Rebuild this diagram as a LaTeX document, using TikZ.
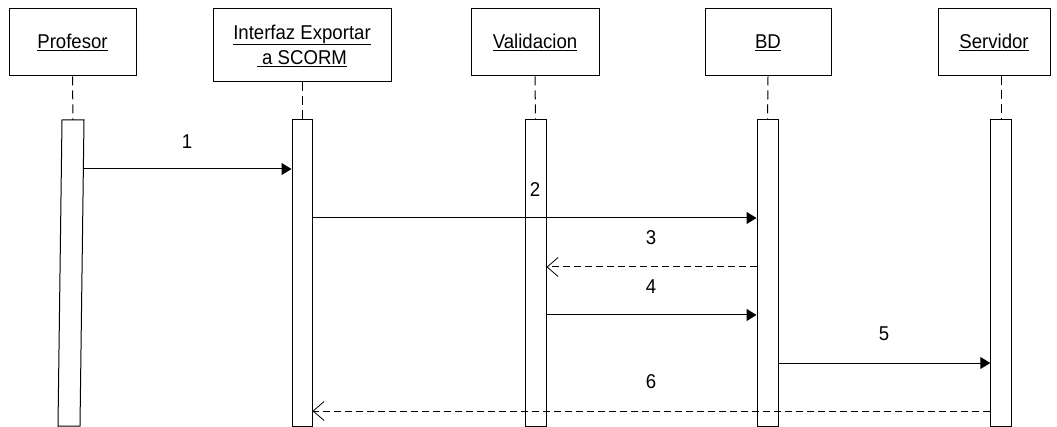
\documentclass[tikz,border=0pt]{standalone}
\usepackage{fontspec}
\setmainfont{Liberation Sans}[FakeStretch=0.93]
\usetikzlibrary{arrows.meta}
\begin{document}
\begin{tikzpicture}[x=1pt,y=-1pt,line width=1pt,
  font=\fontsize{20}{25}\selectfont,
  objbox/.style={draw,fill=white,inner sep=0pt,align=center,minimum height=67pt},
  actbar/.style={draw,fill=white,inner sep=0pt,minimum width=21pt,minimum height=306pt},
  lifeline/.style={dash pattern=on 9pt off 5pt},
  callmsg/.style={-{Triangle[length=10pt,width=12pt]}},
  replymsg/.style={dash pattern=on 7pt off 4pt,-{Straight Barb[length=11pt,width=19pt,line width=0.8pt]}},
  msgnum/.style={inner sep=0pt}]
\useasboundingbox (0,0) rectangle (1057,427);

% participants
\node[objbox,minimum width=127pt] (prof) at (72.5,42.5) {\underline{Profesor}};
\node[objbox,minimum width=178pt,minimum height=73pt] (ifz) at (302,45.5) {\underline{Interfaz Exportar}\\\underline{\ a SCORM}};
\node[objbox,minimum width=128pt] (val) at (535,42.5) {\underline{Validacion}};
\node[objbox,minimum width=126pt] (bd) at (768,42.5) {\underline{BD}};
\node[objbox,minimum width=112pt] (srv) at (994,42.5) {\underline{Servidor}};

% activation bars
\coordinate (ptl) at (62,120);
\coordinate (ptr) at (84,120);
\coordinate (pbr) at (80,426);
\coordinate (pbl) at (58,426);
\coordinate (ptop) at (73,120);
\draw[fill=white] (ptl) -- (ptr) -- (pbr) -- (pbl) -- cycle;
\node[actbar,minimum width=20pt] (aifz) at (302,273) {};
\node[actbar] (aval) at (535.5,273) {};
\node[actbar] (abd) at (767.5,273) {};
\node[actbar,minimum width=20.5pt] (asrv) at (1001,273) {};

% lifelines
\draw[lifeline] (prof.south) -- (ptop);
\draw[lifeline] (ifz.south) -- (aifz.north);
\draw[lifeline] (val.south) -- (aval.north);
\draw[lifeline] (bd.south) -- (abd.north);
\draw[lifeline] (srv.south -| asrv.north) -- (asrv.north);

% messages
\coordinate (m1) at (83.4,169);
\draw[callmsg] (m1) -- (aifz.west |- m1);
\draw[callmsg] (aifz.east |- 0,218) -- (abd.west |- 0,218);
\draw[replymsg] (abd.west |- 0,267) -- (aval.east |- 0,267);
\draw[callmsg] (aval.east |- 0,315) -- (abd.west |- 0,315);
\draw[callmsg] (abd.east |- 0,363) -- (asrv.west |- 0,363);
\draw[replymsg] (asrv.west |- 0,411) -- (aifz.east |- 0,411);

% message numbers
\node[msgnum] (n1) at (187,141.5) {1};
\node[msgnum] (n2) at (535,189.5) {2};
\node[msgnum] (n3) at (651,238) {3};
\node[msgnum] (n4) at (651,287) {4};
\node[msgnum] (n5) at (884,334) {5};
\node[msgnum] (n6) at (651,382) {6};
\end{tikzpicture}
\end{document}
